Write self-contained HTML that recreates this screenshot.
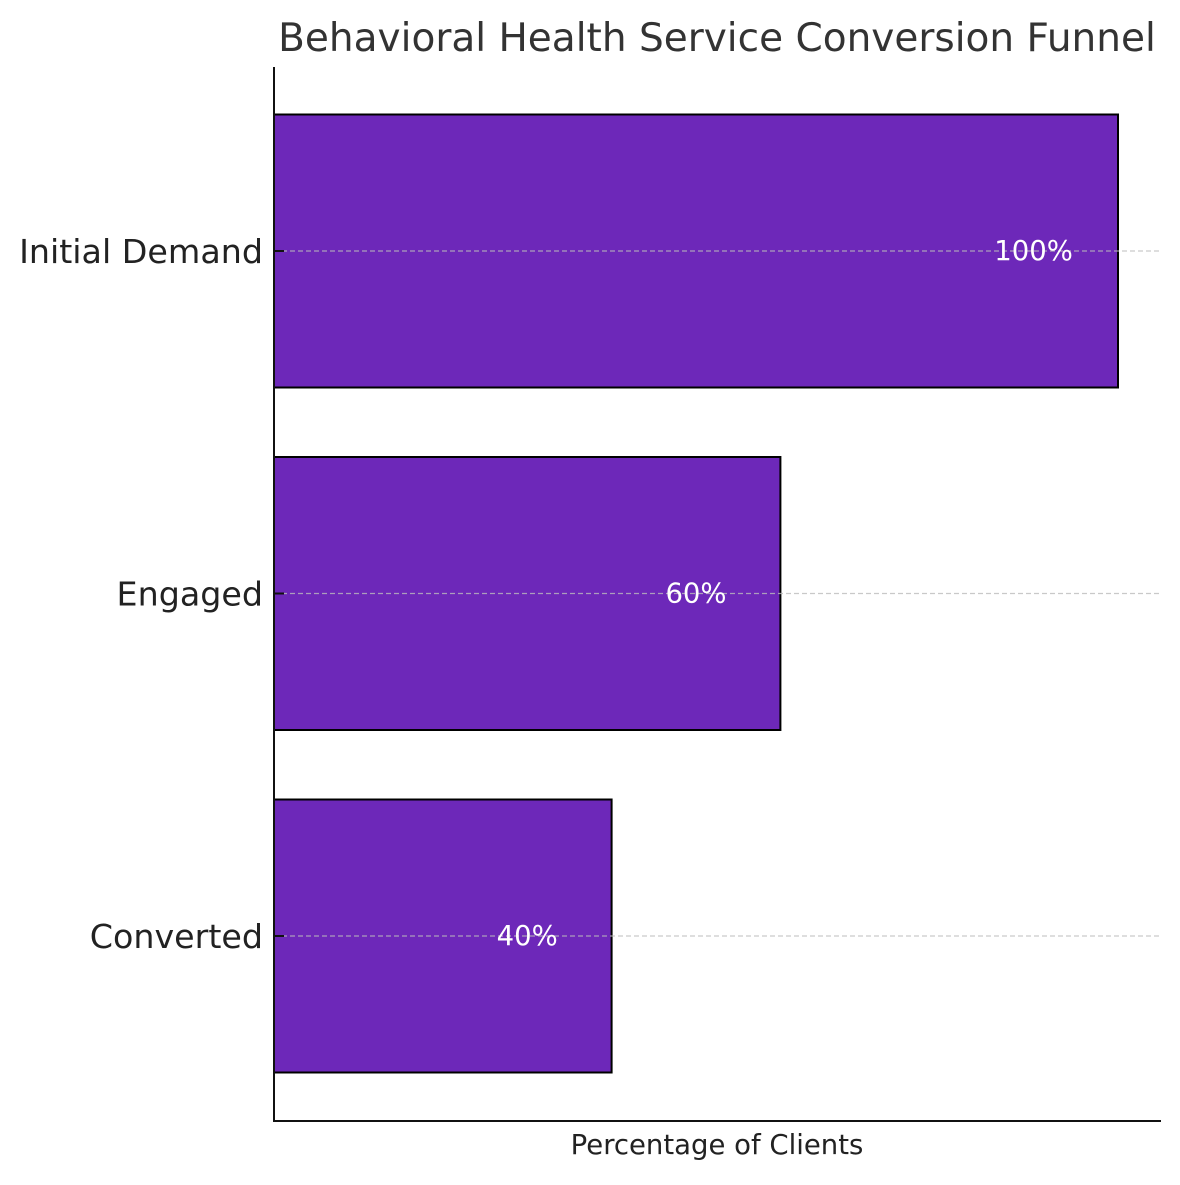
<!DOCTYPE html>
<html><head><meta charset="utf-8"><style>
body{margin:0;background:#fff;}
svg text{font-family:"DejaVu Sans","Liberation Sans",sans-serif;}
</style></head><body>
<svg id="chart" width="1180" height="1180" viewBox="0 0 1180 1180" xmlns="http://www.w3.org/2000/svg">
<rect width="1180" height="1180" fill="#fff"/>
<text x="717" y="51" text-anchor="middle" font-size="39" fill="#333">Behavioral Health Service Conversion Funnel</text>
<g id="bars"></g>
<g id="grid"></g>
<g id="labels"></g>
<line x1="274" y1="67" x2="274" y2="1121" stroke="#111" stroke-width="2"/>
<line x1="273" y1="1121" x2="1161" y2="1121" stroke="#111" stroke-width="2"/>
<text x="717" y="1154" text-anchor="middle" font-size="27.5" fill="#222">Percentage of Clients</text>
</svg>
<script>
const categories = ["Initial Demand", "Engaged", "Converted"];
const values = [100, 60, 40];
const valueLabels = ["100%", "60%", "40%"];
const NS = "http://www.w3.org/2000/svg";
const x0 = 274, pxPerUnit = 8.44;
function xScale(v){ return x0 + v * pxPerUnit; }
function yScale(i){ return 251 + i * 342.5; }
const barH = 273;
const grid = document.getElementById('grid'), bars = document.getElementById('bars'), labels = document.getElementById('labels');
categories.forEach((c, i) => {
  const y = yScale(i);
  const r = document.createElementNS(NS, 'rect');
  
  
  r.setAttribute('x', x0); r.setAttribute('y', y - barH / 2);
  r.setAttribute('width', xScale(values[i]) - x0); r.setAttribute('height', barH);
  r.setAttribute('fill', '#6d28b9'); r.setAttribute('stroke', '#000'); r.setAttribute('stroke-width', '2');
  bars.appendChild(r);
  const g = document.createElementNS(NS, 'line');
  
  
  g.setAttribute('x1', x0); g.setAttribute('x2', 1160); g.setAttribute('y1', y); g.setAttribute('y2', y);
  g.setAttribute('stroke', '#bbb'); g.setAttribute('stroke-opacity', '0.8'); g.setAttribute('stroke-dasharray', '5,3'); g.setAttribute('stroke-width', '1.3');
  grid.appendChild(g);
  const t = document.createElementNS(NS, 'line');
  
  
  t.setAttribute('x1', x0); t.setAttribute('x2', 284); t.setAttribute('y1', y); t.setAttribute('y2', y);
  t.setAttribute('stroke', '#111'); t.setAttribute('stroke-width', '2');
  labels.appendChild(t);
  const tl = document.createElementNS(NS, 'text');
  
  
  tl.setAttribute('x', 263); tl.setAttribute('y', y + 12); tl.setAttribute('text-anchor', 'end');
  tl.setAttribute('font-size', '33.3'); tl.setAttribute('fill', '#222');
  tl.textContent = c; labels.appendChild(tl);
  const vl = document.createElementNS(NS, 'text');
  
  
  vl.setAttribute('x', xScale(values[i] - 10)); vl.setAttribute('y', y + 9); vl.setAttribute('text-anchor', 'middle');
  vl.setAttribute('font-size', '27.5'); vl.setAttribute('fill', '#fff');
  vl.textContent = valueLabels[i]; labels.appendChild(vl);
});
</script>
</body></html>
